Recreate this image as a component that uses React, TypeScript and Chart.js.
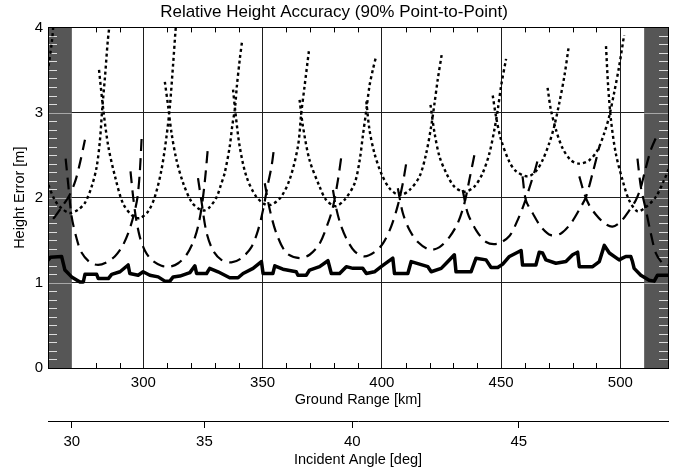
import { useEffect, useRef } from "react";
import { Chart, registerables } from "chart.js";

Chart.register(...registerables);

// ---------- axes ----------
const rangeMin = 260;
const rangeMax = 520;
const errMin = 0;
const errMax = 4;
const rangeTicks = [300, 350, 400, 450, 500];
const errTicks = [0, 1, 2, 3, 4];
const minorRangeTicks = [280, 290, 310, 320, 330, 340, 360, 370, 380, 390, 410, 420, 430, 440, 460, 470, 480, 490];
const minorErrStep = 0.1;
const maskedRanges = [
  [260, 270],
  [510, 520],
];
const angleLabels = [30, 35, 40, 45];
const angleAtRange = [270.0, 325.6, 387.6, 457.4];

// ---------- solid series ----------
const solidRange = [
  258.0, 259.5, 261.0, 265.7, 267.1, 269.9, 273.4, 274.8, 275.5, 280.4,
  281.1, 285.3, 286.7, 290.2, 293.6, 294.3, 297.8, 299.9, 302.7, 306.2,
  309.0, 311.1, 312.5, 315.3, 319.5, 321.6, 322.3, 326.5, 327.8, 331.3,
  336.2, 339.7, 341.8, 346.0, 349.5, 350.2, 354.3, 355.1, 358.5, 364.1,
  364.8, 368.3, 369.7, 373.9, 377.4, 378.8, 382.3, 385.1, 387.9, 392.0,
  393.5, 396.9, 399.7, 404.6, 405.3, 410.9, 412.3, 419.3, 420.7, 424.9,
  427.0, 430.4, 431.1, 437.4, 439.5, 443.7, 445.8, 448.6, 450.7, 453.5,
  458.4, 459.0, 464.6, 466.0, 467.4, 468.8, 473.0, 477.2, 480.0, 482.1,
  482.8, 488.4, 491.2, 493.3, 495.4, 499.5, 500.9, 502.3, 504.4, 505.1,
  505.8, 508.6, 512.1, 514.2, 515.6, 519.8, 521.0,
];
const solidError = [
  1.24, 1.25, 1.30, 1.31, 1.15, 1.07, 1.01, 1.01, 1.10, 1.10,
  1.05, 1.05, 1.10, 1.13, 1.21, 1.11, 1.09, 1.13, 1.09, 1.07,
  1.02, 1.02, 1.07, 1.08, 1.12, 1.20, 1.11, 1.11, 1.17, 1.13,
  1.06, 1.06, 1.11, 1.17, 1.25, 1.11, 1.11, 1.20, 1.16, 1.13,
  1.09, 1.09, 1.15, 1.19, 1.26, 1.11, 1.11, 1.19, 1.17, 1.17,
  1.11, 1.13, 1.19, 1.29, 1.11, 1.11, 1.25, 1.19, 1.13, 1.17,
  1.23, 1.33, 1.13, 1.13, 1.29, 1.27, 1.18, 1.18, 1.22, 1.31,
  1.38, 1.21, 1.21, 1.36, 1.35, 1.27, 1.23, 1.25, 1.33, 1.36,
  1.19, 1.19, 1.25, 1.44, 1.35, 1.27, 1.29, 1.31, 1.31, 1.25,
  1.17, 1.09, 1.03, 1.02, 1.09, 1.09, 1.09,
];

// ---------- dashed series (null = break between beams) ----------
const dashedRange = [
  257.0, 259.9, 263.0, 266.0, 269.0, 271.5, 273.5, 275.5, null,
  267.4, 268.5, 269.9, 272.0, 274.0, 277.6, 281.0, 284.5, 288.0, 291.0, 293.6, 296.0, 297.5, 298.5, 299.3, null,
  294.6, 295.7, 296.9, 298.5, 300.6, 303.4, 307.6, 311.1, 314.6, 318.1, 320.9, 322.9, 324.5, 325.8, 327.1, null,
  322.9, 324.4, 326.4, 329.2, 332.7, 336.9, 341.1, 345.3, 348.1, 350.2, 352.3, 353.7, 354.6, null,
  350.9, 353.0, 355.8, 360.0, 365.5, 369.7, 373.9, 377.4, 379.5, 381.6, 383.0, null,
  379.5, 381.0, 383.0, 385.5, 388.6, 392.7, 396.9, 400.4, 403.9, 406.7, 408.8, 410.2, null,
  406.7, 408.8, 411.6, 415.1, 420.0, 424.2, 428.4, 431.8, 434.6, 436.7, 438.8, null,
  433.9, 436.0, 439.5, 443.7, 448.6, 453.5, 457.0, 459.7, 462.5, 464.6, 465.7, null,
  459.0, 460.4, 463.2, 466.7, 470.9, 475.1, 479.3, 482.8, 485.6, 488.4, 490.5, 491.2, null,
  482.8, 484.9, 487.0, 489.8, 493.3, 496.7, 500.2, 503.5, 506.5, 508.6, 510.5, 512.8, 514.9, null,
  507.2, 508.6, 510.7, 512.8, 514.9, 517.7, 519.8, 522.0,
];
const dashedError = [
  1.58, 1.68, 1.78, 1.90, 2.03, 2.20, 2.42, 2.68, null,
  2.46, 2.15, 1.78, 1.52, 1.36, 1.24, 1.21, 1.24, 1.31, 1.42, 1.58, 1.80, 2.00, 2.30, 2.72, null,
  2.31, 2.01, 1.76, 1.54, 1.38, 1.27, 1.20, 1.19, 1.23, 1.33, 1.48, 1.66, 1.90, 2.20, 2.60, null,
  2.23, 1.95, 1.60, 1.38, 1.27, 1.24, 1.29, 1.42, 1.62, 1.86, 2.17, 2.36, 2.54, null,
  2.17, 1.86, 1.58, 1.35, 1.29, 1.33, 1.46, 1.70, 1.89, 2.21, 2.48, null,
  2.09, 1.86, 1.66, 1.50, 1.37, 1.31, 1.36, 1.46, 1.66, 1.91, 2.17, 2.40, null,
  2.11, 1.82, 1.62, 1.48, 1.39, 1.42, 1.54, 1.70, 1.93, 2.21, 2.50, null,
  2.09, 1.82, 1.62, 1.48, 1.46, 1.55, 1.74, 1.93, 2.17, 2.36, 2.48, null,
  2.25, 1.97, 1.82, 1.66, 1.56, 1.58, 1.70, 1.86, 2.01, 2.29, 2.52, 2.60, null,
  2.25, 2.05, 1.91, 1.80, 1.70, 1.66, 1.72, 1.84, 1.97, 2.12, 2.33, 2.56, 2.70, null,
  2.46, 2.13, 1.86, 1.58, 1.35, 1.23, 1.21, 1.20,
];

// ---------- dotted series (null = break between beams) ----------
const dottedRange = [
  258.5, 260.0, 261.7, 262.3, null,
  258.0, 259.9, 262.9, 265.7, 269.2, 272.7, 275.5, 278.3, 280.4, 281.8, 282.7, 283.9, 285.0, 285.7, 286.0, null,
  281.4, 283.2, 285.3, 288.1, 291.5, 295.7, 298.5, 302.0, 304.8, 307.6, 309.7, 311.1, 312.5, 313.5, 313.8, null,
  309.0, 310.4, 311.8, 313.9, 316.7, 320.2, 323.7, 325.5, 327.5, 330.6, 332.5, 334.1, 336.2, 337.3, 338.4, 339.2, 340.4, 341.4, null,
  337.6, 338.6, 340.4, 343.2, 347.4, 352.3, 357.2, 361.3, 364.8, 366.2, 367.6, 369.4, null,
  365.5, 366.9, 369.7, 373.9, 376.5, 380.5, 384.5, 388.6, 390.7, 392.0, 393.5, 394.8, 396.2, 397.6, null,
  393.5, 394.8, 396.9, 399.7, 403.2, 407.4, 411.6, 415.8, 418.6, 420.7, 422.1, 423.4, 425.1, null,
  420.4, 422.1, 424.2, 427.0, 430.4, 434.6, 438.8, 442.3, 445.1, 447.2, 448.6, 450.0, 452.1, null,
  446.5, 447.9, 450.0, 453.5, 456.3, 461.1, 464.6, 467.4, 470.2, 472.3, 474.4, 476.5, 478.3, null,
  469.5, 470.9, 473.0, 475.8, 479.3, 482.8, 487.0, 490.5, 493.3, 495.3, 497.4, 499.5, 501.6, null,
  494.0, 494.9, 496.1, 498.1, 500.9, 503.7, 507.2, 510.7, 514.9, 518.4, 520.5, 521.5,
];
const dottedError = [
  3.20, 3.50, 3.85, 4.05, null,
  2.35, 2.17, 1.97, 1.875, 1.82, 1.86, 1.94, 2.13, 2.36, 2.68, 3.03, 3.42, 3.82, 4.01, 4.10, null,
  3.50, 3.03, 2.60, 2.25, 1.93, 1.78, 1.76, 1.84, 2.01, 2.33, 2.72, 3.07, 3.58, 3.97, 4.05, null,
  3.36, 3.07, 2.76, 2.44, 2.17, 1.95, 1.86, 1.85, 1.88, 2.00, 2.15, 2.29, 2.60, 2.85, 3.05, 3.31, 3.62, 3.84, null,
  3.27, 3.00, 2.60, 2.25, 2.01, 1.91, 1.99, 2.21, 2.60, 2.99, 3.31, 3.72, null,
  3.15, 2.84, 2.44, 2.13, 1.98, 1.90, 1.98, 2.17, 2.44, 2.72, 3.03, 3.31, 3.50, 3.66, null,
  3.13, 2.80, 2.52, 2.29, 2.11, 2.03, 2.09, 2.25, 2.52, 2.84, 3.11, 3.38, 3.68, null,
  3.09, 2.76, 2.48, 2.29, 2.13, 2.07, 2.13, 2.29, 2.52, 2.80, 3.03, 3.31, 3.63, null,
  3.20, 2.95, 2.68, 2.42, 2.31, 2.25, 2.31, 2.44, 2.64, 2.84, 3.11, 3.42, 3.76, null,
  3.29, 3.03, 2.80, 2.58, 2.44, 2.40, 2.44, 2.56, 2.76, 2.95, 3.23, 3.54, 3.91, null,
  3.78, 3.31, 2.91, 2.52, 2.21, 1.97, 1.84, 1.89, 2.01, 2.21, 2.36, 2.50,
];

const FONT = "'Liberation Sans', Arial, sans-serif";

function toPoints(xs: (number | null)[], ys: (number | null)[]) {
  let last = xs[0] as number;
  return xs.map((x, i) => {
    if (x !== null) last = x;
    return { x: last, y: ys[i] };
  });
}

const panelPlugin = {
  id: "panel",
  beforeDatasetsDraw(chart: any) {
    const { ctx, chartArea: a, scales } = chart;
    const xs = scales.x;
    const ys = scales.y;
    ctx.save();
    ctx.fillStyle = "#565656";
    const bands: number[][] = [];
    for (const [lo, hi] of maskedRanges) {
      const x0 = xs.getPixelForValue(lo);
      const x1 = xs.getPixelForValue(hi);
      bands.push([x0, x1]);
      ctx.fillRect(x0, a.top, x1 - x0, a.bottom - a.top);
    }
    const n = Math.round((errMax - errMin) / minorErrStep);
    ctx.lineWidth = 1;
    for (let i = 1; i < n; i++) {
      const v = errMin + i * minorErrStep;
      const y = Math.round(ys.getPixelForValue(v)) + 0.5;
      const major = i % 10 === 0;
      ctx.strokeStyle = major ? "#a8a8a8" : "#dcdcdc";
      ctx.beginPath();
      if (major) {
        for (const [x0, x1] of bands) {
          ctx.moveTo(x0, y);
          ctx.lineTo(x1, y);
        }
      } else {
        ctx.moveTo(a.left, y);
        ctx.lineTo(a.left + 9, y);
        ctx.moveTo(a.right - 9, y);
        ctx.lineTo(a.right, y);
      }
      ctx.stroke();
    }
    ctx.restore();
  },
  afterDatasetsDraw(chart: any) {
    const { ctx, chartArea: a, scales } = chart;
    const xs = scales.x;
    ctx.save();
    ctx.strokeStyle = "#000";
    ctx.lineWidth = 1;
    ctx.beginPath();
    for (const v of minorRangeTicks) {
      const x = Math.round(xs.getPixelForValue(v)) + 0.5;
      ctx.moveTo(x, a.bottom);
      ctx.lineTo(x, a.bottom - 5);
      ctx.moveTo(x, a.top);
      ctx.lineTo(x, a.top + 5);
    }
    ctx.stroke();
    ctx.strokeRect(Math.round(a.left) + 0.5, Math.round(a.top) + 0.5, Math.round(a.right - a.left), Math.round(a.bottom - a.top));
    ctx.restore();
  },
};

export default function App() {
  const ref = useRef<HTMLCanvasElement | null>(null);

  useEffect(() => {
    if (!ref.current) return;
    const tickFont = { family: FONT, size: 15, weight: "normal" as const };
    const titleFont = { family: FONT, size: 14.5, weight: "normal" as const };
    const chart = new Chart(ref.current, {
      type: "line",
      data: {
        datasets: [
          {
            data: toPoints(dottedRange, dottedError),
            borderColor: "#000",
            borderWidth: 2.4,
            borderDash: [3, 3],
            pointRadius: 0,
            tension: 0.3,
            spanGaps: false,
          },
          {
            data: toPoints(dashedRange, dashedError),
            borderColor: "#000",
            borderWidth: 2.2,
            borderDash: [12, 7],
            pointRadius: 0,
            tension: 0.3,
            spanGaps: false,
          },
          {
            data: toPoints(solidRange, solidError),
            borderColor: "#000",
            borderWidth: 3.5,
            pointRadius: 0,
            tension: 0,
            borderJoinStyle: "round",
          },
        ],
      } as any,
      options: {
        responsive: false,
        animation: false,
        devicePixelRatio: 1,
        layout: { padding: { left: 0, right: 10, top: 0, bottom: 0 } },
        plugins: {
          legend: { display: false },
          tooltip: { enabled: false },
          title: {
            display: true,
            text: "Relative Height Accuracy (90% Point-to-Point)",
            color: "#000",
            font: { family: FONT, size: 17, weight: "normal" },
            padding: { top: 2, bottom: 5 },
          },
        },
        scales: {
          x: {
            type: "linear",
            position: "bottom",
            weight: 0,
            min: rangeMin,
            max: rangeMax,
            afterBuildTicks: (s: any) => {
              s.ticks = rangeTicks.map((v) => ({ value: v }));
            },
            afterFit: (s: any) => {
              s.height = 53;
            },
            grid: { color: "#1e1e1e", lineWidth: 1, drawTicks: false },
            border: { display: false },
            ticks: { color: "#000", font: tickFont, padding: 6, maxRotation: 0, autoSkip: false },
            title: {
              display: true,
              text: "Ground Range [km]",
              color: "#000",
              font: titleFont,
              padding: { top: 0, bottom: 12 },
            },
          },
          x2: {
            type: "linear",
            position: "bottom",
            weight: 1,
            min: rangeMin,
            max: rangeMax,
            afterBuildTicks: (s: any) => {
              s.ticks = angleAtRange.map((v) => ({ value: v }));
            },
            afterFit: (s: any) => {
              s.height = 48;
            },
            grid: { drawOnChartArea: false, drawTicks: true, tickLength: 7, color: "#000", lineWidth: 1 },
            border: { display: true, color: "#000", width: 1 },
            ticks: {
              color: "#000",
              font: tickFont,
              padding: 5,
              maxRotation: 0,
              autoSkip: false,
              callback: (_v: any, i: number) => String(angleLabels[i]),
            },
            title: {
              display: true,
              text: "Incident Angle [deg]",
              color: "#000",
              font: titleFont,
              padding: { top: 0, bottom: 0 },
            },
          },
          y: {
            type: "linear",
            position: "left",
            min: errMin,
            max: errMax,
            afterBuildTicks: (s: any) => {
              s.ticks = errTicks.map((v) => ({ value: v }));
            },
            afterFit: (s: any) => {
              s.width = 48;
            },
            grid: { color: "#1e1e1e", lineWidth: 1, drawTicks: false },
            border: { display: false },
            ticks: { color: "#000", font: tickFont, padding: 5 },
            title: {
              display: true,
              text: "Height Error [m]",
              color: "#000",
              font: titleFont,
              padding: { top: 11, bottom: 0 },
            },
          },
        },
      } as any,
      plugins: [panelPlugin],
    });
    return () => chart.destroy();
  }, []);

  return (
    <div style={{ position: "fixed", left: 0, top: 0, width: 678, height: 469, background: "#fff" }}>
      <canvas ref={ref} width={678} height={469} style={{ display: "block" }} />
    </div>
  );
}
